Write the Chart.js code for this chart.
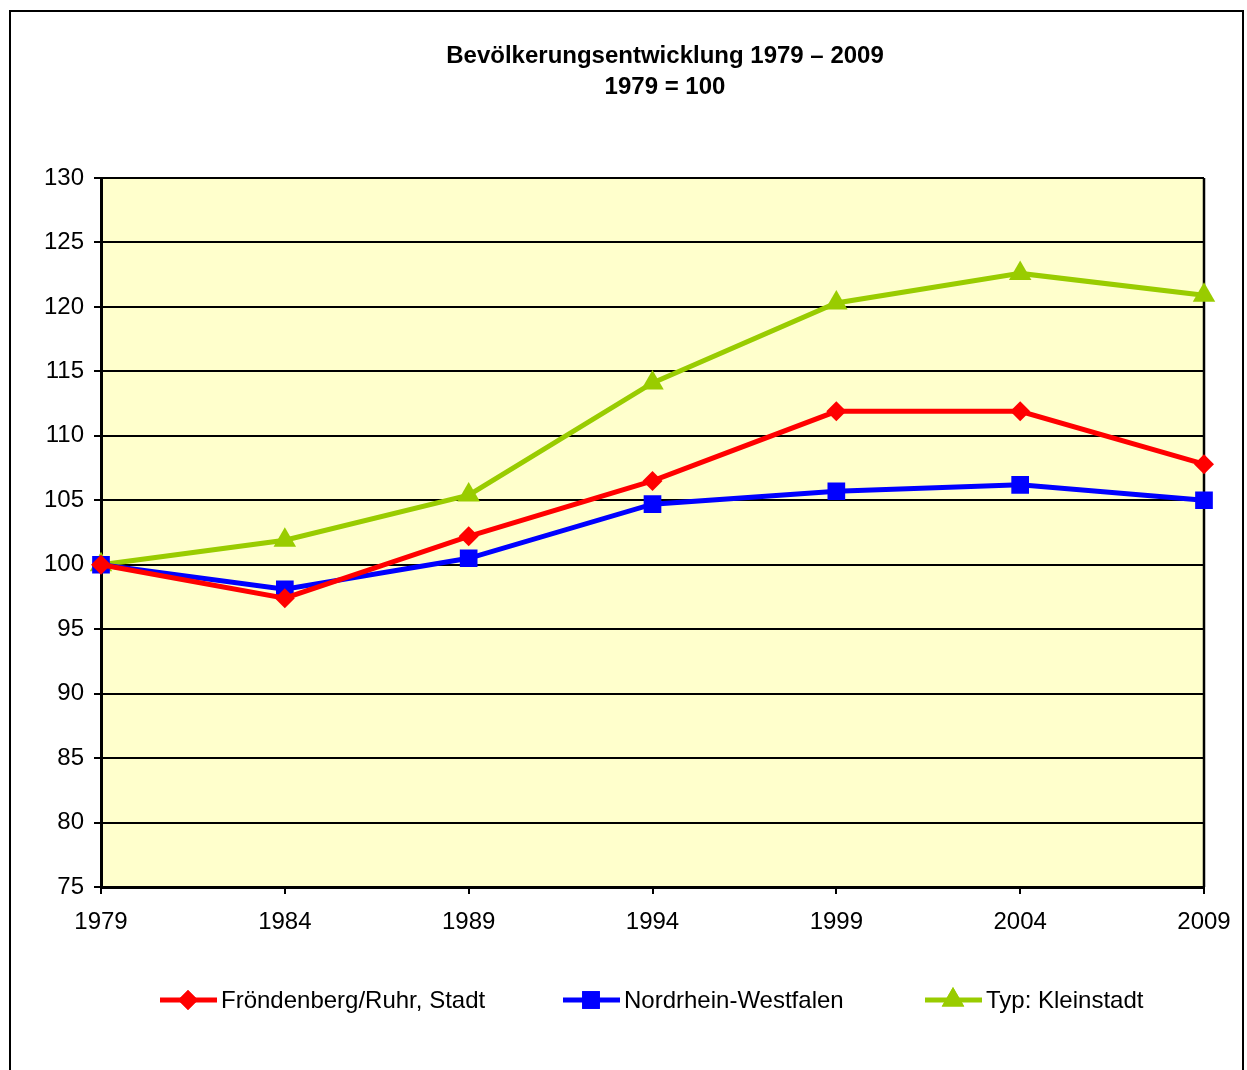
<!DOCTYPE html>
<html>
<head>
<meta charset="utf-8">
<script src="https://cdn.jsdelivr.net/npm/chart.js@4.4.1/dist/chart.umd.min.js"></script>
<style>
  html, body { margin: 0; padding: 0; background: #fff; overflow: hidden; }
  #wrap { position: relative; width: 1247px; height: 1070px; }
  #frame {
    position: absolute; left: 9px; top: 10px; width: 1235px; height: 1100px;
    border: 2px solid #000; box-sizing: border-box; pointer-events: none;
  }
  #c { position: absolute; left: 0; top: 0; }
</style>
</head>
<body>
<div id="wrap">
  <canvas id="c" width="1247" height="1070"></canvas>
  <div id="frame"></div>
</div>
<script>
/* ── Data ── */
const years = ['1979', '1984', '1989', '1994', '1999', '2004', '2009'];
const froendenberg = [100, 97.4, 102.2, 106.5, 111.9, 111.9, 107.8];
const nrw          = [100, 98.1, 100.5, 104.7, 105.7, 106.2, 105.0];
const kleinstadt   = [100, 101.9, 105.4, 114.1, 120.3, 122.6, 120.9];
const seriesNames  = ['Fröndenberg/Ruhr, Stadt', 'Nordrhein-Westfalen', 'Typ: Kleinstadt'];
const titleLines   = ['Bevölkerungsentwicklung 1979 – 2009', '1979 = 100'];

const C = {
  red:   '#ff0000',
  blue:  '#0000ff',
  green: '#99cc00',
  plot:  '#ffffcc',
  ink:   '#000000',
};
const FONT = "'Liberation Sans', Arial, sans-serif";

/* ── Plot background, border, title, legend ── */
const decor = {
  id: 'decor',
  beforeDraw(chart) {
    const { ctx, chartArea: a } = chart;
    ctx.save();
    ctx.fillStyle = C.plot;
    ctx.fillRect(a.left, a.top, a.right - a.left, a.bottom - a.top);
    ctx.restore();
  },
  beforeDatasetsDraw(chart) {
    const { ctx, chartArea: a } = chart;
    ctx.save();
    // right edge of plot
    ctx.strokeStyle = C.ink;
    ctx.lineWidth = 2.5;
    ctx.beginPath();
    ctx.moveTo(a.right, a.top);
    ctx.lineTo(a.right, a.bottom);
    ctx.stroke();
    ctx.restore();
  },
  afterDraw(chart) {
    const { ctx } = chart;
    ctx.save();
    // title
    ctx.fillStyle = C.ink;
    ctx.font = 'bold 24px ' + FONT;
    ctx.textAlign = 'center';
    ctx.textBaseline = 'middle';
    ctx.fillText(titleLines[0], 665, 56);
    ctx.fillText(titleLines[1], 665, 87);

    // legend
    const items = [
      { x: 160, ds: chart.data.datasets[0] },
      { x: 563, ds: chart.data.datasets[1] },
      { x: 925, ds: chart.data.datasets[2] },
    ];
    const y = 1000;
    ctx.font = '24px ' + FONT;
    ctx.textAlign = 'left';
    items.forEach(it => {
      ctx.strokeStyle = it.ds.borderColor;
      ctx.lineWidth = 5;
      ctx.beginPath();
      ctx.moveTo(it.x, y);
      ctx.lineTo(it.x + 57, y);
      ctx.stroke();
      ctx.fillStyle = it.ds.borderColor;
      Chart.helpers.drawPoint(ctx, {
        pointStyle: it.ds.pointStyle,
        radius: it.ds.pointRadius,
        borderWidth: 0,
      }, it.x + 28, y);
      ctx.fill();
      ctx.fillStyle = C.ink;
      ctx.fillText(it.ds.label, it.x + 61, y + 1);
    });
    ctx.restore();
  },
};

new Chart(document.getElementById('c').getContext('2d'), {
  type: 'line',
  data: {
    labels: years,
    datasets: [
      {
        label: seriesNames[0], data: froendenberg,
        borderColor: C.red, backgroundColor: C.red, borderWidth: 5,
        pointStyle: 'rectRot', pointRadius: 10, pointBorderWidth: 0, tension: 0,
      },
      {
        label: seriesNames[1], data: nrw,
        borderColor: C.blue, backgroundColor: C.blue, borderWidth: 5,
        pointStyle: 'rect', pointRadius: 12.5, pointBorderWidth: 0, tension: 0,
      },
      {
        label: seriesNames[2], data: kleinstadt,
        borderColor: C.green, backgroundColor: C.green, borderWidth: 5,
        pointStyle: 'triangle', pointRadius: 13, pointBorderWidth: 0, tension: 0,
      },
    ],
  },
  options: {
    responsive: false,
    animation: false,
    events: [],
    layout: { padding: { top: 178, right: 43, left: 0, bottom: 0 } },
    plugins: {
      legend: { display: false },
      title: { display: false },
      tooltip: { enabled: false },
    },
    scales: {
      x: {
        type: 'category',
        offset: false,
        afterFit(s) { s.height = 183; },
        grid: {
          drawOnChartArea: false, drawTicks: true, tickLength: 7,
          color: C.ink, lineWidth: 2,
        },
        border: { color: C.ink, width: 3 },
        ticks: {
          color: C.ink, padding: 14, maxRotation: 0, autoSkip: false,
          font: { family: FONT, size: 24 },
        },
      },
      y: {
        min: 75, max: 130,
        afterFit(s) { s.width = 101; },
        grid: {
          drawOnChartArea: true, drawTicks: true, tickLength: 7,
          color: C.ink, lineWidth: 2,
        },
        border: { color: C.ink, width: 3 },
        ticks: {
          stepSize: 5, color: C.ink, padding: 10,
          font: { family: FONT, size: 24 },
        },
      },
    },
  },
  plugins: [decor],
});
</script>
</body>
</html>
